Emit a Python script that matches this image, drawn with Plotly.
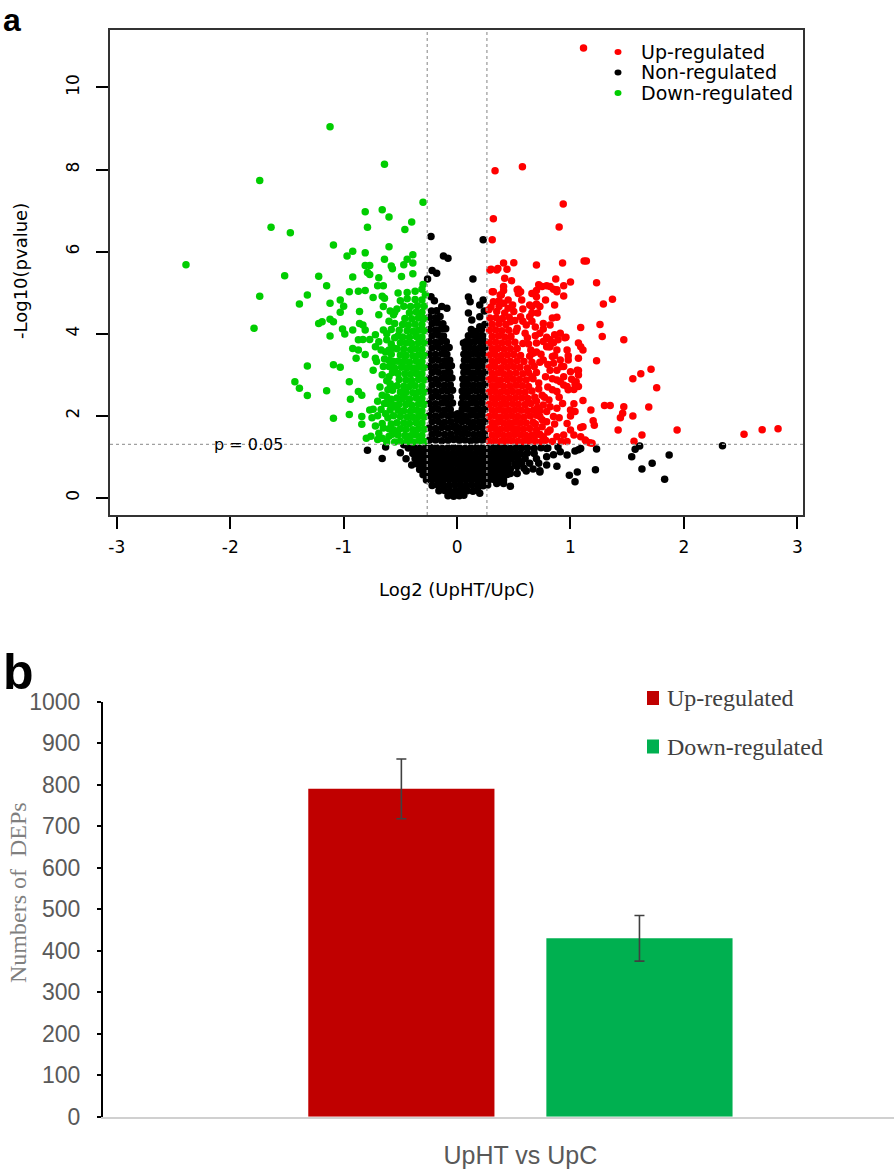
import plotly.graph_objects as go

# ---------------- panel a : volcano plot (log2 fold change, -log10 p) ----------------
legend_a = ["Up-regulated", "Non-regulated", "Down-regulated"]
colors_a = ["#FF0000", "#000000", "#00CD00"]
fc_cut = 0.263      # log2(1.2)
p_cut = 1.301       # -log10(0.05)
p_label = "p = 0.05"

non_pts = [
    (-0.23, 6.37), (-0.12, 5.89), (-0.08, 5.84), (-0.22, 5.54), (-0.18, 5.47), (-0.26, 5.33),
    (0.23, 6.29), (0.14, 5.33), (0.10, 4.89), (-0.23, 4.90), (-0.20, 4.80), (-0.135, 4.66),
    (-0.09, 4.62), (0.115, 4.78), (0.20, 4.70), (0.23, 4.82), (0.10, 4.50), (0.13, 4.33),
    (0.20, 4.41), (0.20, 4.17), (0.056, 3.77), (0.24, 4.55), (0.17, 4.05),
    # left arm
    (-0.245, 1.40), (-0.19, 1.41), (-0.135, 1.39), (-0.08, 1.40), (-0.03, 1.42),
    (-0.22, 1.55), (-0.165, 1.56), (-0.11, 1.54), (-0.055, 1.55),
    (-0.245, 1.70), (-0.19, 1.69), (-0.135, 1.71), (-0.08, 1.70), (-0.03, 1.72),
    (-0.22, 1.85), (-0.165, 1.86), (-0.11, 1.84), (-0.055, 1.85),
    (-0.245, 2.00), (-0.19, 1.99), (-0.135, 2.01), (-0.08, 2.00), (-0.035, 2.02),
    (-0.22, 2.15), (-0.165, 2.16), (-0.11, 2.14), (-0.06, 2.15),
    (-0.245, 2.30), (-0.19, 2.29), (-0.135, 2.31), (-0.085, 2.30), (-0.04, 2.31),
    (-0.22, 2.45), (-0.165, 2.46), (-0.11, 2.44), (-0.06, 2.45),
    (-0.245, 2.60), (-0.19, 2.59), (-0.135, 2.61), (-0.085, 2.60), (-0.04, 2.62),
    (-0.22, 2.75), (-0.165, 2.76), (-0.11, 2.74), (-0.06, 2.75),
    (-0.245, 2.90), (-0.19, 2.89), (-0.135, 2.91), (-0.085, 2.90), (-0.045, 2.92),
    (-0.22, 3.05), (-0.165, 3.06), (-0.11, 3.04), (-0.065, 3.05),
    (-0.245, 3.20), (-0.19, 3.19), (-0.135, 3.21), (-0.085, 3.20), (-0.05, 3.22),
    (-0.22, 3.35), (-0.165, 3.36), (-0.11, 3.34), (-0.065, 3.35),
    (-0.245, 3.50), (-0.19, 3.49), (-0.135, 3.51), (-0.09, 3.50),
    (-0.22, 3.65), (-0.165, 3.66), (-0.115, 3.64), (-0.07, 3.66),
    (-0.245, 3.80), (-0.19, 3.79), (-0.14, 3.81), (-0.095, 3.80),
    (-0.22, 3.95), (-0.165, 3.96), (-0.12, 3.94),
    (-0.245, 4.10), (-0.19, 4.09), (-0.14, 4.11), (-0.10, 4.12),
    (-0.22, 4.25), (-0.17, 4.26), (-0.125, 4.24),
    (-0.245, 4.40), (-0.19, 4.39), (-0.15, 4.42),
    (-0.225, 4.55), (-0.18, 4.56),
    # junction of the two arms
    (-0.005, 1.45), (0.00, 1.60), (-0.01, 1.75), (0.00, 1.90), (0.005, 2.05),
    # right arm
    (0.02, 1.40), (0.07, 1.41), (0.12, 1.39), (0.17, 1.40), (0.22, 1.41), (0.25, 1.43),
    (0.045, 1.55), (0.095, 1.56), (0.145, 1.54), (0.195, 1.55), (0.24, 1.56),
    (0.02, 1.70), (0.07, 1.69), (0.12, 1.71), (0.17, 1.70), (0.22, 1.71),
    (0.045, 1.85), (0.095, 1.86), (0.145, 1.84), (0.195, 1.85), (0.245, 1.86),
    (0.025, 2.00), (0.07, 1.99), (0.12, 2.01), (0.17, 2.00), (0.22, 2.01),
    (0.045, 2.15), (0.095, 2.16), (0.145, 2.14), (0.195, 2.15), (0.245, 2.16),
    (0.04, 2.30), (0.075, 2.29), (0.12, 2.31), (0.17, 2.30), (0.22, 2.31),
    (0.05, 2.45), (0.095, 2.46), (0.145, 2.44), (0.195, 2.45), (0.245, 2.46),
    (0.045, 2.60), (0.08, 2.59), (0.12, 2.61), (0.17, 2.60), (0.22, 2.61),
    (0.055, 2.75), (0.095, 2.76), (0.145, 2.74), (0.195, 2.75), (0.245, 2.76),
    (0.05, 2.90), (0.085, 2.89), (0.125, 2.91), (0.17, 2.90), (0.22, 2.91),
    (0.06, 3.05), (0.10, 3.06), (0.145, 3.04), (0.195, 3.05), (0.245, 3.06),
    (0.055, 3.20), (0.09, 3.19), (0.13, 3.21), (0.175, 3.20), (0.22, 3.21),
    (0.065, 3.35), (0.105, 3.36), (0.15, 3.34), (0.195, 3.35), (0.245, 3.36),
    (0.06, 3.50), (0.095, 3.49), (0.135, 3.51), (0.18, 3.50), (0.225, 3.51),
    (0.07, 3.65), (0.11, 3.66), (0.155, 3.64), (0.20, 3.65), (0.245, 3.66),
    (0.08, 3.80), (0.12, 3.79), (0.16, 3.81), (0.205, 3.80), (0.245, 3.81),
    (0.10, 3.95), (0.14, 3.96), (0.18, 3.94), (0.225, 3.95),
    (0.125, 4.10), (0.215, 4.10), (0.245, 4.22),
    # broad base below p threshold
    (-0.08, 0.05), (-0.03, 0.04), (0.02, 0.05), (0.06, 0.06),
    (-0.16, 0.17), (-0.11, 0.18), (-0.06, 0.16), (-0.01, 0.17), (0.04, 0.18), (0.09, 0.17), (0.14, 0.16), (0.18, 0.19),
    (-0.22, 0.30), (-0.17, 0.31), (-0.12, 0.29), (-0.07, 0.30), (-0.02, 0.31), (0.03, 0.30), (0.08, 0.29),
    (0.13, 0.31), (0.18, 0.30), (0.23, 0.29), (0.27, 0.31),
    (-0.27, 0.43), (-0.22, 0.44), (-0.17, 0.42), (-0.12, 0.43), (-0.07, 0.44), (-0.02, 0.43), (0.03, 0.42),
    (0.08, 0.43), (0.13, 0.44), (0.18, 0.43), (0.23, 0.42), (0.28, 0.43), (0.33, 0.44), (0.37, 0.42),
    (-0.30, 0.56), (-0.25, 0.57), (-0.20, 0.55), (-0.15, 0.56), (-0.10, 0.57), (-0.05, 0.56), (0.00, 0.55),
    (0.05, 0.56), (0.10, 0.57), (0.15, 0.56), (0.20, 0.55), (0.25, 0.56), (0.30, 0.57), (0.35, 0.56),
    (0.40, 0.55), (0.44, 0.57),
    (-0.33, 0.69), (-0.28, 0.70), (-0.23, 0.68), (-0.18, 0.69), (-0.13, 0.70), (-0.08, 0.69), (-0.03, 0.68),
    (0.02, 0.69), (0.07, 0.70), (0.12, 0.69), (0.17, 0.68), (0.22, 0.69), (0.27, 0.70), (0.32, 0.69),
    (0.37, 0.68), (0.42, 0.69), (0.47, 0.70),
    (-0.35, 0.82), (-0.30, 0.83), (-0.25, 0.81), (-0.20, 0.82), (-0.15, 0.83), (-0.10, 0.82), (-0.05, 0.81),
    (0.00, 0.82), (0.05, 0.83), (0.10, 0.82), (0.15, 0.81), (0.20, 0.82), (0.25, 0.83), (0.30, 0.82),
    (0.35, 0.81), (0.40, 0.82), (0.45, 0.83), (0.51, 0.82),
    (-0.37, 0.95), (-0.32, 0.96), (-0.27, 0.94), (-0.22, 0.95), (-0.17, 0.96), (-0.12, 0.95), (-0.07, 0.94),
    (-0.02, 0.95), (0.03, 0.96), (0.08, 0.95), (0.13, 0.94), (0.18, 0.95), (0.23, 0.96), (0.28, 0.95),
    (0.33, 0.94), (0.38, 0.95), (0.43, 0.96), (0.48, 0.95), (0.54, 0.94), (0.60, 0.96),
    (-0.39, 1.08), (-0.34, 1.09), (-0.29, 1.07), (-0.24, 1.08), (-0.19, 1.09), (-0.14, 1.08), (-0.09, 1.07),
    (-0.04, 1.08), (0.01, 1.09), (0.06, 1.08), (0.11, 1.07), (0.16, 1.08), (0.21, 1.09), (0.26, 1.08),
    (0.31, 1.07), (0.36, 1.08), (0.41, 1.09), (0.46, 1.08), (0.51, 1.07), (0.56, 1.08), (0.62, 1.09), (0.68, 1.08),
    (-0.43, 1.21), (-0.38, 1.22), (-0.33, 1.20), (-0.28, 1.21), (-0.23, 1.22), (-0.18, 1.21), (-0.13, 1.20),
    (-0.08, 1.21), (-0.03, 1.22), (0.02, 1.21), (0.07, 1.20), (0.12, 1.21), (0.17, 1.22), (0.22, 1.21),
    (0.27, 1.20), (0.32, 1.21), (0.37, 1.22), (0.42, 1.21), (0.47, 1.20), (0.52, 1.21), (0.57, 1.22),
    (0.62, 1.21), (0.68, 1.20), (0.74, 1.22), (0.80, 1.21),
    # scattered below threshold
    (-0.79, 1.16), (-0.66, 0.96), (-0.63, 1.24), (-0.47, 1.29), (-0.50, 1.10), (-0.45, 0.95), (-0.40, 0.80),
    (2.34, 1.27), (1.87, 1.04), (1.72, 0.84), (1.83, 0.45), (1.63, 0.70), (1.54, 1.00), (1.57, 1.18),
    (1.61, 1.26), (1.23, 1.19), (1.22, 0.68), (1.06, 0.63), (0.99, 0.55), (1.04, 0.39), (1.09, 1.20),
    (1.04, 1.14), (0.97, 1.04), (0.89, 1.24), (0.91, 1.12), (0.79, 1.20), (0.88, 0.77), (0.79, 0.80),
    (0.73, 0.63), (0.67, 0.70), (0.64, 0.84), (0.59, 0.72), (0.53, 0.59), (0.47, 0.28), (0.41, 0.43),
    (0.79, 1.00), (0.72, 0.84), (0.73, 0.66), (0.61, 0.65), (0.57, 0.84), (0.53, 0.76), (0.47, 0.59),
    (0.38, 0.51), (0.41, 0.35), (0.35, 0.35), (0.20, 0.11), (1.07, 1.17), (0.85, 1.05), (0.70, 0.95),
]

up_pts = [
    (1.115, 10.96), (0.335, 7.97), (0.576, 8.07), (0.936, 7.16), (0.32, 6.80), (0.90, 6.60), (0.31, 6.29),
    (0.30, 5.57), (0.36, 5.59), (0.41, 5.72), (0.50, 5.73), (0.44, 5.57), (0.70, 5.67), (0.93, 5.72),
    (1.12, 5.77), (1.14, 5.77), (0.42, 5.35), (0.48, 5.29), (0.87, 5.33), (1.00, 5.26), (0.94, 5.17),
    (1.23, 5.24), (0.41, 5.15), (0.41, 5.05), (0.54, 5.08), (0.54, 4.98), (0.75, 5.15), (0.79, 5.17),
    (0.70, 5.05), (0.85, 5.08), (0.88, 5.07), (0.31, 5.02), (0.38, 4.94), (0.67, 4.98), (0.94, 4.92),
    (1.37, 4.84), (1.29, 4.72), (1.26, 4.22), (1.28, 3.93), (1.09, 4.15), (1.47, 3.85), (1.23, 3.34),
    (1.71, 3.13), (1.62, 3.02), (1.55, 2.90), (1.76, 2.68), (1.30, 2.25), (1.35, 2.25), (1.47, 2.22),
    (1.69, 2.21), (1.46, 2.06), (1.44, 1.95), (1.55, 1.99), (1.42, 1.65), (1.63, 1.53), (1.56, 1.38),
    (1.94, 1.65), (2.53, 1.55), (2.69, 1.66), (2.83, 1.68), (1.11, 2.37), (1.03, 2.29), (1.00, 2.14),
    (1.18, 2.14), (1.20, 1.88), (1.21, 1.77), (1.11, 1.73), (1.13, 1.41), (1.17, 1.34), (1.07, 2.71),
    (1.05, 2.83), (1.03, 2.64), (1.06, 3.11), (1.07, 2.99), (0.96, 3.91), (1.09, 3.68), (1.11, 3.60),
    (0.98, 3.46), (0.97, 3.60), (0.89, 3.85), (0.85, 3.78), (0.76, 4.11), (0.69, 4.16), (0.88, 4.40),
    (0.84, 4.38), (0.66, 4.66), (0.64, 4.41), (0.71, 4.50), (0.79, 3.91), (0.81, 3.68), (0.84, 3.44),
    (0.91, 3.36), (0.94, 3.20), (0.88, 3.11), (0.91, 2.83), (0.97, 2.71), (0.88, 2.59), (1.09, 1.71),
    (1.14, 1.37), (1.19, 1.33), (1.07, 3.77), (0.95, 3.90), (0.86, 3.97), (0.98, 3.36), (1.07, 3.40),
    (1.07, 3.10), (1.00, 3.07), (1.01, 2.89), (1.04, 2.77), (0.94, 2.75), (1.04, 2.10), (1.00, 1.99),
    (0.97, 1.81), (1.00, 1.65), (0.94, 1.53), (1.03, 1.53), (1.09, 1.49), (0.97, 1.37), (0.88, 1.49),
    (0.82, 1.65), (0.79, 1.85), (0.85, 1.98), (0.88, 2.18), (0.82, 2.22), (0.81, 2.38), (0.76, 2.26),
    (0.73, 1.98), (0.75, 1.73), (0.76, 1.49), (0.84, 1.37), (0.92, 1.37), (0.86, 3.46), (0.92, 3.20),
    (0.82, 3.11), (0.88, 2.87), (0.84, 2.63), (0.94, 2.95), (0.98, 2.63), (0.86, 4.70), (0.78, 4.82),
    (0.70, 4.72), (0.66, 4.50), (0.76, 4.25), (0.82, 4.21), (0.91, 4.01), (0.82, 3.85), (0.73, 4.01),
    (0.79, 3.68), (0.29, 5.55), (0.35, 5.55), (0.53, 5.07), (0.56, 5.02), (0.32, 5.02), (0.39, 4.94),
    (0.45, 4.82), (0.32, 4.78), (0.41, 4.74), (0.57, 4.82), (0.66, 4.98), (0.72, 5.19), (0.82, 5.15),
    (0.88, 5.02), (0.73, 4.66), (0.64, 4.70), (0.70, 4.90), (0.28, 4.58), (0.35, 4.54), (0.42, 4.50),
    (0.50, 4.54), (0.56, 4.41), (0.47, 4.29), (0.53, 4.13), (0.61, 4.21), (0.60, 4.01), (0.70, 3.77),
    (0.76, 3.81), (0.67, 3.52), (0.82, 3.68), (0.88, 3.60), (0.76, 3.36), (0.85, 3.28), (0.66, 3.30),
    (0.70, 3.05), (0.72, 2.80), (0.75, 2.50), (0.70, 2.35), (0.65, 3.60), (0.62, 3.90),
    (0.63, 3.05), (0.68, 3.20), (0.64, 3.45), (0.70, 3.55), (0.73, 3.30), (0.66, 2.95), (0.72, 2.65),
    (0.78, 2.95), (0.80, 2.70), (0.77, 2.45), (0.71, 2.20), (0.79, 2.10), (0.75, 1.90), (0.80, 1.60),
    (0.69, 1.80), (0.73, 1.55), (0.78, 1.40), (0.68, 1.52), (0.86, 1.80), (0.90, 1.95), (0.93, 2.30),
    (0.90, 2.45), (0.84, 2.90), (0.80, 3.25), (0.74, 3.50), (0.63, 3.75), (0.69, 3.95), (0.58, 4.30),
    (0.66, 4.30), (0.51, 4.32), (0.49, 4.70), (0.58, 4.60), (0.37, 4.80), (0.45, 4.62),
    # dense core
    (0.285, 1.38), (0.335, 1.39), (0.385, 1.37), (0.435, 1.38), (0.485, 1.39), (0.535, 1.38), (0.585, 1.37), (0.635, 1.39), (0.69, 1.38), (0.745, 1.37),
    (0.31, 1.53), (0.36, 1.54), (0.41, 1.52), (0.46, 1.53), (0.51, 1.54), (0.56, 1.53), (0.61, 1.52), (0.66, 1.53), (0.715, 1.55),
    (0.285, 1.68), (0.335, 1.69), (0.385, 1.67), (0.435, 1.68), (0.485, 1.69), (0.535, 1.68), (0.585, 1.67), (0.64, 1.69), (0.70, 1.66),
    (0.31, 1.83), (0.36, 1.84), (0.41, 1.82), (0.46, 1.83), (0.51, 1.84), (0.56, 1.83), (0.61, 1.82), (0.67, 1.84),
    (0.285, 1.98), (0.335, 1.99), (0.385, 1.97), (0.435, 1.98), (0.485, 1.99), (0.535, 1.98), (0.59, 1.97), (0.645, 1.99), (0.70, 2.01),
    (0.31, 2.13), (0.36, 2.14), (0.41, 2.12), (0.46, 2.13), (0.51, 2.14), (0.565, 2.13), (0.62, 2.12), (0.675, 2.14), (0.73, 2.12),
    (0.285, 2.28), (0.335, 2.29), (0.385, 2.27), (0.435, 2.28), (0.49, 2.29), (0.54, 2.28), (0.60, 2.27), (0.65, 2.30),
    (0.31, 2.43), (0.36, 2.44), (0.41, 2.42), (0.46, 2.43), (0.515, 2.44), (0.57, 2.43), (0.625, 2.42), (0.685, 2.45),
    (0.285, 2.58), (0.335, 2.59), (0.385, 2.57), (0.44, 2.58), (0.49, 2.59), (0.545, 2.58), (0.60, 2.57), (0.66, 2.60),
    (0.31, 2.73), (0.36, 2.74), (0.41, 2.72), (0.465, 2.73), (0.52, 2.74), (0.575, 2.73), (0.63, 2.71),
    (0.285, 2.88), (0.335, 2.89), (0.385, 2.87), (0.44, 2.88), (0.495, 2.89), (0.55, 2.88), (0.61, 2.87), (0.67, 2.90),
    (0.31, 3.03), (0.36, 3.04), (0.41, 3.02), (0.465, 3.03), (0.52, 3.04), (0.58, 3.02),
    (0.285, 3.18), (0.335, 3.19), (0.39, 3.17), (0.445, 3.18), (0.50, 3.19), (0.555, 3.18), (0.62, 3.16),
    (0.31, 3.33), (0.36, 3.34), (0.415, 3.32), (0.47, 3.33), (0.53, 3.34), (0.59, 3.32),
    (0.285, 3.48), (0.335, 3.49), (0.39, 3.47), (0.445, 3.48), (0.50, 3.49), (0.56, 3.47),
    (0.31, 3.63), (0.36, 3.64), (0.415, 3.62), (0.47, 3.63), (0.53, 3.64),
    (0.285, 3.78), (0.34, 3.79), (0.395, 3.77), (0.45, 3.78), (0.51, 3.79), (0.58, 3.76),
    (0.31, 3.93), (0.365, 3.94), (0.42, 3.92), (0.475, 3.93),
    (0.285, 4.08), (0.34, 4.09), (0.395, 4.07), (0.455, 4.08), (0.52, 4.06),
    (0.31, 4.23), (0.37, 4.24), (0.43, 4.22),
    (0.29, 4.38), (0.345, 4.39), (0.40, 4.37), (0.46, 4.40),
    (0.30, 4.65), (0.37, 4.66),
]

down_pts = [
    (-1.12, 9.04), (-0.64, 8.13), (-1.74, 7.73), (-0.30, 7.20), (-0.81, 6.97), (-0.66, 7.02), (-0.60, 6.84),
    (-1.64, 6.59), (-1.47, 6.46), (-0.79, 6.59), (-0.40, 6.72), (-0.46, 6.54), (-2.39, 5.68), (-1.09, 6.16),
    (-0.60, 6.12), (-0.92, 6.01), (-0.97, 5.89), (-0.81, 5.97), (-0.64, 5.81), (-0.39, 5.92), (-0.44, 5.81),
    (-0.39, 5.72), (-0.47, 5.68), (-0.81, 5.66), (-0.77, 5.66), (-0.58, 5.65), (-0.57, 5.58), (-1.52, 5.41),
    (-1.22, 5.40), (-0.92, 5.38), (-0.79, 5.49), (-0.77, 5.44), (-0.69, 5.36), (-0.49, 5.39), (-0.39, 5.46),
    (-1.15, 5.17), (-0.70, 5.17), (-0.65, 5.17), (-0.30, 5.20), (-0.95, 5.02), (-0.87, 5.03), (-0.81, 5.05),
    (-1.32, 4.94), (-1.74, 4.91), (-0.52, 4.99), (-0.44, 5.00), (-0.37, 5.03), (-0.31, 5.08), (-0.74, 4.88),
    (-0.66, 4.91), (-0.28, 4.95), (-1.39, 4.72), (-1.12, 4.74), (-1.03, 4.82), (-1.00, 4.67), (-1.03, 4.52),
    (-0.64, 4.86), (-0.65, 4.66), (-0.86, 4.54), (-0.69, 4.46), (-0.56, 4.46), (-1.79, 4.13), (-1.22, 4.25),
    (-1.19, 4.29), (-1.12, 4.35), (-1.09, 4.29), (-1.12, 3.94), (-1.01, 4.11), (-0.99, 3.99), (-0.92, 4.09),
    (-0.86, 4.25), (-0.83, 4.21), (-0.81, 4.09), (-0.87, 3.85), (-0.83, 3.86), (-0.77, 3.86), (-0.72, 3.97),
    (-0.65, 4.09), (-0.92, 3.64), (-0.87, 3.60), (-0.89, 3.40), (-0.81, 3.49), (-0.72, 3.68), (-0.72, 3.40),
    (-0.71, 3.32), (-1.32, 3.21), (-1.09, 3.24), (-1.03, 3.18), (-1.43, 2.83), (-1.39, 2.67), (-1.32, 2.49),
    (-1.15, 2.61), (-0.95, 2.83), (-0.87, 2.59), (-0.84, 2.50), (-0.94, 2.40), (-1.09, 1.94), (-0.95, 2.03),
    (-0.84, 1.98), (-0.84, 1.79), (-0.77, 2.14), (-0.74, 2.16), (-0.66, 1.81), (-0.69, 1.57), (-0.74, 3.11),
    (-0.65, 3.20), (-0.61, 2.63), (-0.62, 2.46), (-0.56, 2.22), (-0.59, 2.14), (-0.53, 1.61), (-0.47, 2.50),
    (-0.60, 4.30), (-0.62, 4.00), (-0.58, 3.75), (-0.63, 3.55), (-0.60, 3.35), (-0.66, 3.00), (-0.62, 2.85),
    (-0.68, 2.70), (-0.64, 2.30), (-0.70, 2.00), (-0.61, 1.95), (-0.65, 1.70), (-0.60, 1.50), (-0.70, 1.42),
    (-0.62, 1.36), (-0.76, 1.50), (-0.80, 1.45), (-0.58, 1.80), (-0.57, 3.05), (-0.57, 2.62),
    (-0.58, 4.10), (-0.55, 4.25), (-0.55, 3.90), (-0.58, 3.50), (-0.56, 3.32), (-0.60, 3.20), (-0.64, 3.38),
    (-0.67, 3.60), (-0.69, 3.80), (-0.66, 2.50), (-0.70, 2.35), (-0.67, 2.15), (-0.58, 2.40), (-0.56, 2.00),
    (-0.57, 1.55), (-0.66, 1.45), (-0.72, 1.75), (-0.75, 1.95), (-0.60, 2.95), (-0.53, 4.60), (-0.50, 4.80),
    (-0.44, 4.85), (-0.55, 4.52), (-0.52, 3.95), (-0.56, 3.65),
    (-0.59, 2.78), (-0.61, 2.30), (-0.60, 1.68), (-0.62, 3.85), (-0.59, 4.55), (-0.63, 2.05), (-0.60, 3.60),
    # dense core
    (-0.29, 1.37), (-0.34, 1.38), (-0.39, 1.36), (-0.44, 1.37), (-0.50, 1.38), (-0.55, 1.36),
    (-0.31, 1.52), (-0.36, 1.53), (-0.41, 1.51), (-0.46, 1.52), (-0.52, 1.53),
    (-0.29, 1.67), (-0.34, 1.68), (-0.39, 1.66), (-0.45, 1.67), (-0.50, 1.68), (-0.56, 1.66),
    (-0.31, 1.82), (-0.36, 1.83), (-0.42, 1.81), (-0.47, 1.82), (-0.53, 1.83),
    (-0.29, 1.97), (-0.34, 1.98), (-0.39, 1.96), (-0.44, 1.97), (-0.50, 1.98),
    (-0.31, 2.12), (-0.36, 2.13), (-0.41, 2.11), (-0.47, 2.12), (-0.52, 2.13),
    (-0.29, 2.27), (-0.34, 2.28), (-0.40, 2.26), (-0.45, 2.27), (-0.51, 2.28), (-0.56, 2.26),
    (-0.31, 2.42), (-0.36, 2.43), (-0.42, 2.41), (-0.48, 2.42), (-0.53, 2.43),
    (-0.29, 2.57), (-0.34, 2.58), (-0.39, 2.56), (-0.45, 2.57), (-0.50, 2.58),
    (-0.31, 2.72), (-0.37, 2.73), (-0.42, 2.71), (-0.47, 2.72), (-0.53, 2.73), (-0.58, 2.71),
    (-0.29, 2.87), (-0.34, 2.88), (-0.40, 2.86), (-0.45, 2.87), (-0.51, 2.88),
    (-0.31, 3.02), (-0.36, 3.03), (-0.41, 3.01), (-0.46, 3.02), (-0.52, 3.03),
    (-0.29, 3.17), (-0.34, 3.18), (-0.39, 3.16), (-0.44, 3.17), (-0.49, 3.18), (-0.55, 3.16),
    (-0.31, 3.32), (-0.36, 3.33), (-0.42, 3.31), (-0.47, 3.32), (-0.52, 3.33),
    (-0.29, 3.47), (-0.34, 3.48), (-0.39, 3.46), (-0.45, 3.47), (-0.50, 3.48),
    (-0.31, 3.62), (-0.36, 3.63), (-0.41, 3.61), (-0.47, 3.62), (-0.53, 3.63),
    (-0.29, 3.77), (-0.34, 3.78), (-0.40, 3.76), (-0.45, 3.77), (-0.50, 3.78),
    (-0.31, 3.92), (-0.36, 3.93), (-0.42, 3.91), (-0.48, 3.92),
    (-0.29, 4.07), (-0.34, 4.08), (-0.39, 4.06), (-0.44, 4.07), (-0.51, 4.08),
    (-0.31, 4.22), (-0.37, 4.23), (-0.43, 4.21), (-0.48, 4.22),
    (-0.29, 4.37), (-0.34, 4.38), (-0.40, 4.36), (-0.46, 4.37),
    (-0.31, 4.52), (-0.36, 4.53), (-0.42, 4.51),
    (-0.29, 4.67), (-0.35, 4.68), (-0.41, 4.66), (-0.47, 4.67),
    (-0.31, 4.82), (-0.37, 4.83),
]

# ---------------- panel b : bar chart ----------------
bar_category = ["UpHT vs UpC"]
bar_names = ["Up-regulated", "Down-regulated"]
bar_values = [790, 430]
bar_errors = [72, 55]
bar_colors = ["#C00000", "#00B050"]
bar_yticks = [0, 100, 200, 300, 400, 500, 600, 700, 800, 900, 1000]

W, H = 894, 1171
def px(x): return x / W
def py(y): return 1 - y / H

fig = go.Figure()

for pts, name, col in [(non_pts, legend_a[1], colors_a[1]),
                       (up_pts, legend_a[0], colors_a[0]),
                       (down_pts, legend_a[2], colors_a[2])]:
    fig.add_trace(go.Scatter(
        x=[p[0] for p in pts], y=[p[1] for p in pts], mode="markers", name=name,
        marker=dict(color=col, size=7.5, line=dict(width=0)),
        xaxis="x", yaxis="y", showlegend=False, hoverinfo="skip"))

for name, val, err, col in zip(bar_names, bar_values, bar_errors, bar_colors):
    fig.add_trace(go.Bar(
        x=bar_category, y=[val], name=name, marker=dict(color=col, line=dict(width=0)),
        error_y=dict(type="data", array=[err], color="#404040", thickness=1.6, width=5),
        xaxis="x2", yaxis="y2", showlegend=False))

tick_font_a = dict(family="DejaVu Sans", size=17, color="#000000")
fig.update_layout(
    width=W, height=H, margin=dict(l=0, r=0, t=0, b=0, autoexpand=False),
    paper_bgcolor="white", plot_bgcolor="white",
    barmode="group", bargap=0.398, bargroupgap=0.218,
    xaxis=dict(domain=[px(110), px(803)], range=[-3.06, 3.05], tickvals=[-3, -2, -1, 0, 1, 2, 3],
               ticktext=["-3", "-2", "-1", "0", "1", "2", "3"],
               ticks="outside", ticklen=12, tickwidth=1.5, tickcolor="#000000",
               showline=True, mirror=True, linecolor="#333333", linewidth=1.5,
               showgrid=False, zeroline=False, tickfont=tick_font_a, ticklabelstandoff=4,
               automargin=False, anchor="y"),
    yaxis=dict(domain=[py(515), py(30)], range=[-0.42, 11.4], tickvals=[0, 2, 4, 6, 8, 10],
               tickangle=-90, ticks="outside", ticklen=12, tickwidth=1.5, tickcolor="#000000",
               showline=True, mirror=True, linecolor="#333333", linewidth=1.5,
               showgrid=False, zeroline=False, tickfont=tick_font_a, ticklabelstandoff=10,
               automargin=False, anchor="x"),
    xaxis2=dict(domain=[px(103), 1.0], range=[-0.5277, 0.4723], type="category",
                showline=True, linecolor="#D0D0D0", linewidth=2, ticks="",
                showgrid=False, zeroline=False, ticklabelstandoff=15,
                tickfont=dict(family="Liberation Sans Narrow, Arial Narrow, sans-serif", size=25, color="#595959"),
                automargin=False, anchor="y2"),
    yaxis2=dict(domain=[py(1116.7), py(701.7)], range=[0, 1000], tickvals=bar_yticks,
                ticks="outside", ticklen=4, tickwidth=2, tickcolor="#000000",
                showline=True, linecolor="#000000", linewidth=2,
                showgrid=False, zeroline=False, ticklabelstandoff=12,
                tickfont=dict(family="Liberation Sans Narrow, Arial Narrow, sans-serif", size=23, color="#595959"),
                automargin=False, anchor="x2"),
)

# threshold lines
line_style = dict(color="#A0A0A0", width=1.3, dash="dot")
for xv in (-fc_cut, fc_cut):
    fig.add_shape(type="line", xref="x", yref="y domain", x0=xv, x1=xv, y0=0, y1=1, line=line_style)
fig.add_shape(type="line", xref="x domain", yref="y", x0=0, x1=1, y0=p_cut, y1=p_cut, line=line_style)
fig.add_annotation(x=-1.84, y=p_cut, xref="x", yref="y", text=p_label, showarrow=False,
                   font=dict(family="DejaVu Sans", size=16, color="#000000"), xanchor="center", yanchor="middle")

# axis titles
fig.add_annotation(x=px(457), y=py(589), xref="paper", yref="paper", text="Log2 (UpHT/UpC)", showarrow=False,
                   font=dict(family="DejaVu Sans", size=18, color="#000000"), xanchor="center", yanchor="middle")
fig.add_annotation(x=px(21), y=py(271), xref="paper", yref="paper", text="-Log10(pvalue)", showarrow=False,
                   textangle=-90, font=dict(family="DejaVu Sans", size=18, color="#000000"),
                   xanchor="center", yanchor="middle")
fig.add_annotation(x=px(18), y=py(893), xref="paper", yref="paper", text="Numbers of  DEPs", showarrow=False,
                   textangle=-90, font=dict(family="Liberation Serif, Times New Roman, serif", size=24, color="#7F7F7F"),
                   xanchor="center", yanchor="middle")

# panel letters
fig.add_annotation(x=px(1), y=1, xref="paper", yref="paper", text="<b>a</b>", showarrow=False,
                   font=dict(family="Liberation Sans, Arial, sans-serif", size=32, color="#000000"),
                   xanchor="left", yanchor="top")
fig.add_annotation(x=px(1), y=py(672), xref="paper", yref="paper", text="<b>b</b>", showarrow=False,
                   font=dict(family="Liberation Sans, Arial, sans-serif", size=50, color="#000000"),
                   xanchor="left", yanchor="middle")

# legend panel a
for i, (name, col) in enumerate(zip(legend_a, colors_a)):
    yc = 52 + i * 20.5
    fig.add_shape(type="circle", xref="paper", yref="paper", xsizemode="pixel", ysizemode="pixel",
                  xanchor=px(618), yanchor=py(yc), x0=-3.5, x1=3.5, y0=-3, y1=3,
                  fillcolor=col, line=dict(width=0))
    fig.add_annotation(x=px(639), y=py(yc), xref="paper", yref="paper", text=name, showarrow=False,
                       font=dict(family="DejaVu Sans", size=19, color="#000000"),
                       xanchor="left", yanchor="middle")

# legend panel b
for i, (name, col) in enumerate(zip(bar_names, bar_colors)):
    yc = 698 + i * 48.5
    fig.add_shape(type="rect", xref="paper", yref="paper", xsizemode="pixel", ysizemode="pixel",
                  xanchor=px(653), yanchor=py(yc), x0=-6, x1=6, y0=-7, y1=7,
                  fillcolor=col, line=dict(width=0))
    fig.add_annotation(x=px(665), y=py(yc), xref="paper", yref="paper", text=name, showarrow=False,
                       font=dict(family="Liberation Serif, Times New Roman, serif", size=24, color="#404040"),
                       xanchor="left", yanchor="middle")

# the page body's default 8px margin would shift the figure, so remove it
fig.write_html("out.html", config={"displayModeBar": False},
               post_script="document.body.style.margin='0px';")
